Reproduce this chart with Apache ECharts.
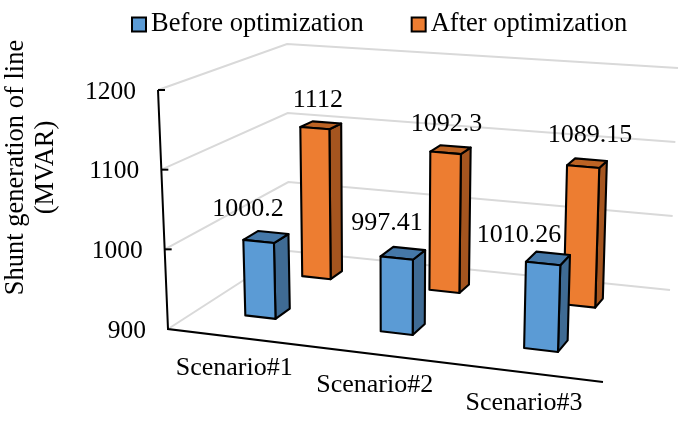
<!DOCTYPE html>
<html><head><meta charset="utf-8">
<style>html,body{margin:0;padding:0;background:#fff}#c{width:685px;height:437px}</style>
<script src="https://cdn.jsdelivr.net/npm/echarts@6/dist/echarts.min.js"></script>
</head><body><div id="c"></div>
<script>
const categories = ['Scenario#1','Scenario#2','Scenario#3'];
const beforeValues = [1000.2, 997.41, 1010.26];
const afterValues = [1112, 1092.3, 1089.15];
const valueTicks = [900, 1000, 1100, 1200];
const seriesNames = ['Before optimization','After optimization'];
const axisTitle = 'Shunt generation of line\n(MVAR)';

const FONT = '"Liberation Serif","Times New Roman",serif';
// projection of the plot box: floor corners in order front-left, front-right, back-right, back-left
function quad(p){
  const [x0,y0]=p[0],[x1,y1]=p[1],[x2,y2]=p[2],[x3,y3]=p[3];
  const dx1=x1-x2,dx2=x3-x2,sx=x0-x1+x2-x3,dy1=y1-y2,dy2=y3-y2,sy=y0-y1+y2-y3;
  const den=dx1*dy2-dx2*dy1,g=(sx*dy2-dx2*sy)/den,h=(dx1*sy-sx*dy1)/den;
  const a=x1-x0+g*x1,b=x3-x0+h*x3,d=y1-y0+g*y1,e=y3-y0+h*y3;
  return (u,w)=>{const q=g*u+h*w+1;return [(a*u+b*w+x0)/q,(d*u+e*w+y0)/q];};
}
const floorPlane = quad([[168,329],[603,382],[670,290],[289,251]]);
const lifts = [[-10,-239],[9,-252],[8,-222],[-2,-207]];
function project(u,w,v){
  const a=floorPlane(u,w);
  const bl=k=>(1-w)*((1-u)*lifts[0][k]+u*lifts[1][k])+w*((1-u)*lifts[3][k]+u*lifts[2][k]);
  return [a[0]+bl(0)*v,a[1]+bl(1)*v];
}
function norm(api,params,i,val){
  const c=api.coord([i,val]),s=params.coordSys;
  return [(c[0]-s.x)/s.width,(s.y+s.height-c[1])/s.height];
}
const GRID_C='#D9D9D9';
const INTERIOR_HEIGHT=0.968; // perspective foreshortening of heights away from the walls
function barRender(colors,wc,halfD,nudges){
  return (params,api)=>{
    const i=api.value(0),val=api.value(1);
    const [uc0,v0]=norm(api,params,i,val);
    const v=v0*INTERIOR_HEIGHT;
    const uc=uc0-0.007,hu=0.038,u0=uc-hu,u1=uc+hu,w0=wc-halfD,w1=wc+halfD;
    const P=project;
    const st=f=>({fill:f,stroke:'#000',lineWidth:2.1,lineJoin:'round'});
    const top=P(uc,wc,v);
    return {type:'group',children:[
      {type:'polygon',shape:{points:[P(u1,w0,0),P(u1,w1,0),P(u1,w1,v),P(u1,w0,v)]},style:st(colors[1])},
      {type:'polygon',shape:{points:[P(u0,w0,v),P(u1,w0,v),P(u1,w1,v),P(u0,w1,v)]},style:st(colors[2])},
      {type:'polygon',shape:{points:[P(u0,w0,0),P(u1,w0,0),P(u1,w0,v),P(u0,w0,v)]},style:st(colors[0])},
      {type:'text',z2:50,style:{text:String(val),x:top[0]+nudges[i][0],y:top[1]+nudges[i][1],font:'26px '+FONT,fill:'#000',align:'center',verticalAlign:'middle'}}
    ]};
  };
}
const chart=echarts.init(document.getElementById('c'),null,{renderer:'canvas'});
chart.setOption({
  animation:false,
  backgroundColor:'#fff',
  legend:{data:seriesNames,left:126,top:6,itemWidth:14,itemHeight:14,itemGap:47,icon:'rect',
    textStyle:{fontFamily:FONT,fontSize:26.5,color:'#000'}},
  grid:{left:168,right:82,top:40,bottom:142,outerBoundsMode:'none'},
  xAxis:{type:'category',data:categories,show:false},
  yAxis:{type:'value',min:900,max:1200,interval:100,name:axisTitle,nameLocation:'middle',nameRotate:90,nameGap:107,
    nameTextStyle:{fontFamily:FONT,fontSize:26.5,lineHeight:30,color:'#000'},
    axisLine:{show:false},axisTick:{show:false},axisLabel:{show:false},splitLine:{show:false}},
  series:[
    {type:'custom',name:'walls',z:1,silent:true,data:valueTicks.map(t=>[0,t]),clip:false,
     renderItem:(params,api)=>{
      const t=api.value(1),[,v]=norm(api,params,0,t);
      const a=project(0,0,v),b=project(0,1,v),c=project(1,1,v);
      const tick=[a[0]+7,a[1]];
      return {type:'group',children:[
        {type:'polyline',shape:{points:[a,b,c]},style:{fill:null,stroke:GRID_C,lineWidth:2}},
        {type:'line',z2:5,shape:{x1:a[0],y1:a[1],x2:tick[0],y2:tick[1]},style:{stroke:'#000',lineWidth:t===900?0:2}},
        {type:'text',style:{text:String(t),x:a[0]-22,y:a[1]+2,font:'25.5px '+FONT,fill:'#000',align:'right',verticalAlign:'middle'}}
      ]};
     }},
    {type:'custom',name:'frame',z:2,silent:true,data:[[0,900]],clip:false,
     renderItem:()=>{
      const a=project(0,0,1),b=project(0,0,0),c=project(1,0,0);
      return {type:'polyline',shape:{points:[a,b,c]},style:{fill:null,stroke:'#000',lineWidth:2}};
     }},
    {type:'custom',name:'categoryLabels',z:2,silent:true,data:categories.map((c,i)=>[i,900]),clip:false,
     renderItem:(params,api)=>{
      const i=api.value(0),[u]=norm(api,params,i,900);
      const p=project(u,0,0);
      return {type:'text',style:{text:categories[i],x:p[0]-1,y:p[1]+31,font:'26px '+FONT,fill:'#000',align:'center',verticalAlign:'middle'}};
     }},
    {type:'custom',name:seriesNames[1],z:3,clip:false,data:afterValues.map((v,i)=>[i,v]),
     itemStyle:{color:'#ED7D31',borderColor:'#000',borderWidth:2},
     renderItem:barRender(['#ED7D31','#A5551F','#BC6324'],0.765,0.055,[[-3,-25],[-4,-25],[3,-28]])},
    {type:'custom',name:seriesNames[0],z:4,clip:false,data:beforeValues.map((v,i)=>[i,v]),
     itemStyle:{color:'#5B9BD5',borderColor:'#000',borderWidth:2},
     renderItem:barRender(['#5B9BD5','#3F6B94','#4578A8'],0.28,0.06,[[-18,-28],[-16,-30],[-29,-23]])}
  ]
});
</script></body></html>
